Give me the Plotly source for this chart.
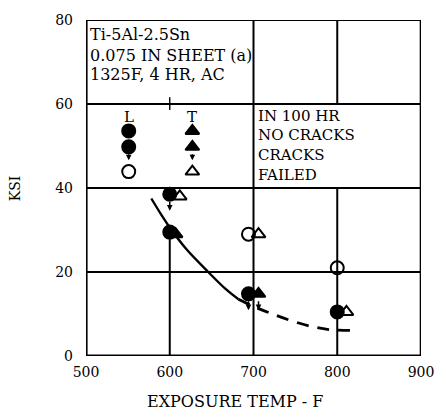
import plotly.graph_objects as go

# Exposure data, Ti-5Al-2.5Sn sheet (L = longitudinal, T = transverse)
L_nocrack_temp = [600, 800]
L_nocrack_ksi = [29.5, 10.5]
L_crack_temp = [600, 694]
L_crack_ksi = [38.5, 14.8]
L_failed_temp = [694, 800]
L_failed_ksi = [29.0, 21.0]

T_nocrack_temp = [607]
T_nocrack_ksi = [29.0]
T_crack_temp = [706]
T_crack_ksi = [14.8]
T_failed_temp = [612, 706, 811]
T_failed_ksi = [38.0, 29.0, 10.5]

# Threshold curve: solid part then dashed extrapolation
curve_solid_temp = [578, 590, 600, 620, 646, 667, 682]
curve_solid_ksi = [37.5, 33.6, 30.6, 25.4, 20.0, 15.9, 13.5]
curve_dash_temp = [682, 700, 720, 745, 770, 790, 820]
curve_dash_ksi = [13.5, 11.8, 10.2, 8.4, 7.0, 6.3, 6.1]

x_ticks = [500, 600, 700, 800, 900]
y_ticks = [0, 20, 40, 60, 80]

title_lines = ["Ti-5Al-2.5Sn", "0.075 IN SHEET (a)", "1325F, 4 HR, AC"]
key_lines = ["IN 100 HR", "NO CRACKS", "CRACKS", "FAILED"]

FONT = "DejaVu Serif"
ARROW_DROP = 3.9  # ksi length of the "cracked" arrows

fig = go.Figure()

fig.add_trace(go.Scatter(x=curve_solid_temp, y=curve_solid_ksi, mode="lines",
                         line=dict(color="black", width=2.4, shape="spline")))
fig.add_trace(go.Scatter(x=curve_dash_temp, y=curve_dash_ksi, mode="lines",
                         line=dict(color="black", width=2.8, dash="12px,9px", shape="spline")))


def markers(xs, ys, symbol, size=13):
    fig.add_trace(go.Scatter(x=xs, y=ys, mode="markers",
                             marker=dict(symbol=symbol, size=size, color="black",
                                         line=dict(color="black", width=2))))


markers(L_nocrack_temp, L_nocrack_ksi, "circle")
markers(L_crack_temp, L_crack_ksi, "circle")
markers(L_failed_temp, L_failed_ksi, "circle-open")
markers(T_nocrack_temp, T_nocrack_ksi, "triangle-up", 12)
markers(T_crack_temp, T_crack_ksi, "triangle-up", 12)
markers(T_failed_temp, T_failed_ksi, "triangle-up-open", 12)

# Key symbols (L / T columns)
key_x_L, key_x_T = 551, 627
key_rows = [53.6, 49.8, 43.9]
markers([key_x_L], [key_rows[0]], "circle")
markers([key_x_L], [key_rows[1]], "circle")
markers([key_x_L], [key_rows[2]], "circle-open")
markers([key_x_T], [key_rows[0]], "triangle-up", 12)
markers([key_x_T], [key_rows[1]], "triangle-up", 12)
markers([key_x_T], [key_rows[2]], "triangle-up-open", 12)

annotations = []


def crack_arrow(x, y, drop=ARROW_DROP):
    annotations.append(dict(x=x, y=y - drop, ax=x, ay=y - 1.4, xref="x", yref="y",
                            axref="x", ayref="y", showarrow=True, arrowhead=2,
                            arrowsize=0.75, arrowwidth=1.5, arrowcolor="black", text=""))


for tx, ty in zip(L_crack_temp, L_crack_ksi):
    crack_arrow(tx, ty)
for tx, ty in zip(T_crack_temp, T_crack_ksi):
    crack_arrow(tx, ty)
crack_arrow(key_x_L, key_rows[1], 3.2)
crack_arrow(key_x_T, key_rows[1], 3.2)

# Column headers of the key
annotations.append(dict(x=key_x_L, y=56.8, text="L", showarrow=False,
                        font=dict(family=FONT, size=15, color="black")))
annotations.append(dict(x=key_x_T, y=56.8, text="T", showarrow=False,
                        font=dict(family=FONT, size=15, color="black")))

for txt, yv in zip(key_lines, [57.2, 52.6, 47.9, 43.1]):
    annotations.append(dict(x=703, y=yv, text=txt, showarrow=False, xanchor="left",
                            font=dict(family=FONT, size=15, color="black")))

for txt, yv in zip(title_lines, [76.6, 71.5, 67.0]):
    annotations.append(dict(x=502, y=yv, text=txt, showarrow=False, xanchor="left",
                            font=dict(family=FONT, size=16, color="black")))

# Axis titles
annotations.append(dict(x=0.445, y=-0.1, xref="paper", yref="paper", yanchor="top",
                        text="EXPOSURE TEMP - F", showarrow=False,
                        font=dict(family=FONT, size=16, color="black")))
annotations.append(dict(x=-0.205, y=0.5, xref="paper", yref="paper", textangle=-90,
                        xshift=-12, text="KSI", showarrow=False,
                        font=dict(family=FONT, size=14, color="black")))

# Chart frame and grid segments (x0, y0, x1, y1, width)
frame_segments = [
    (500, 0, 900, 0, 3.2),
    (500, 0, 500, 80, 3.2),
    (900, 0, 900, 80, 2.6),
    (500, 80, 900, 80, 2.2),
    (500, 20, 900, 20, 2.0),
    (500, 40, 900, 40, 2.0),
    (500, 60, 900, 60, 2.0),
    (700, 0, 700, 80, 2.0),
    (600, 0, 600, 31, 2.0),
    (600, 58.6, 600, 61.6, 1.4),
    (800, 0, 800, 40, 2.0),
    (800, 60, 800, 80, 2.0),
]
shapes = [dict(type="line", x0=a, y0=b, x1=c, y1=d, xref="x", yref="y",
               line=dict(color="black", width=w), layer="below")
          for a, b, c, d, w in frame_segments]

fig.update_layout(
    width=446, height=417,
    margin=dict(l=86, r=16, t=13, b=61),
    paper_bgcolor="white", plot_bgcolor="white",
    showlegend=False,
    shapes=shapes,
    annotations=annotations,
    font=dict(family=FONT, size=14, color="black"),
    xaxis=dict(range=[500, 900], tickvals=x_ticks, ticktext=[str(v) for v in x_ticks],
               showgrid=False, zeroline=False, showline=False, ticks="",
               ticklabelstandoff=6, tickfont=dict(family=FONT, size=14, color="black")),
    yaxis=dict(range=[0, 80], tickvals=y_ticks, ticktext=[str(v) for v in y_ticks],
               showgrid=False, zeroline=False, showline=False, ticks="",
               ticklabelstandoff=12, tickfont=dict(family=FONT, size=14, color="black")),
)

fig.write_html("out.html")
